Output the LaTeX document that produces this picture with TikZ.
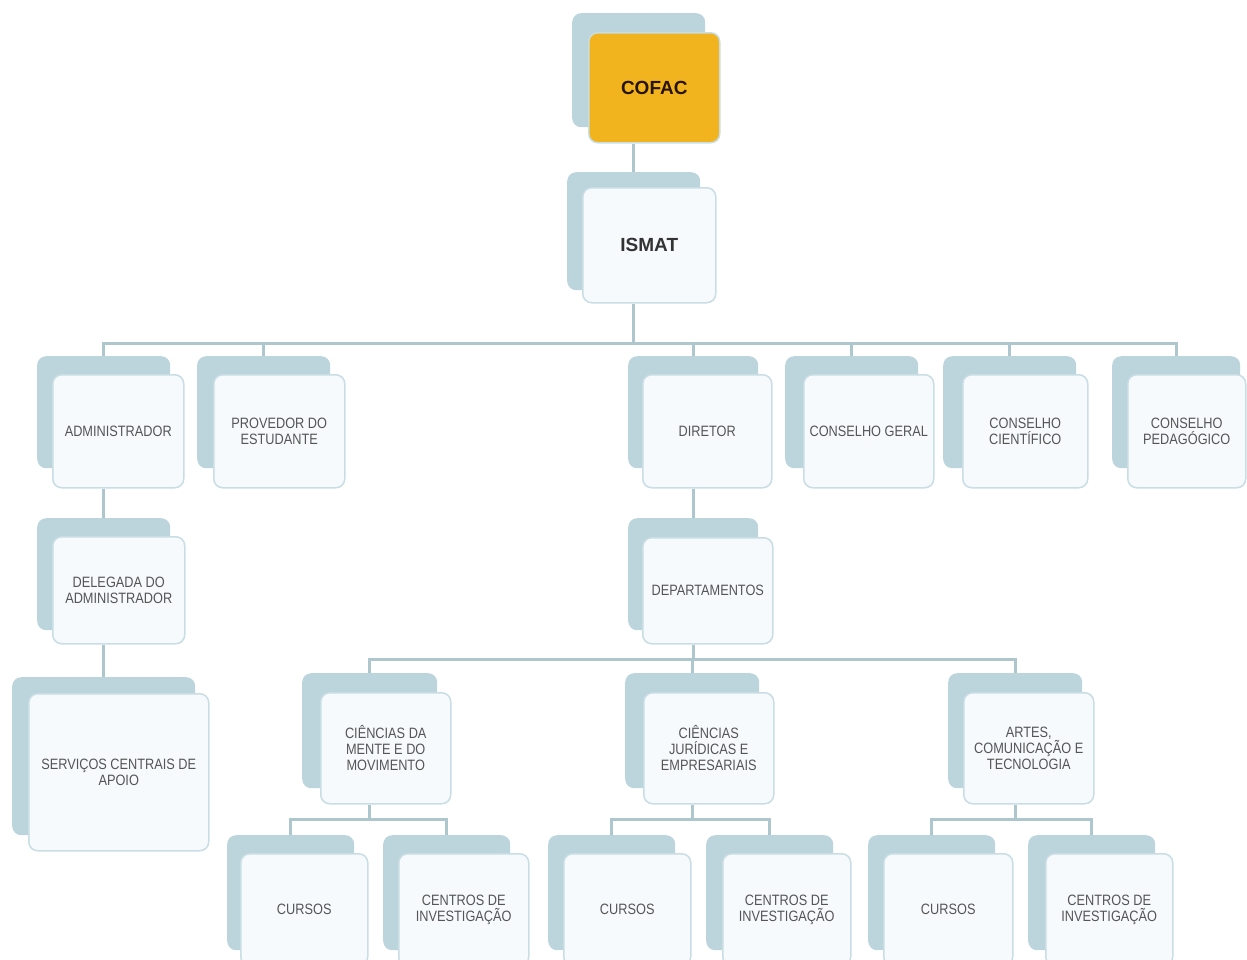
\documentclass[tikz,border=0pt]{standalone}
\usepackage{fontspec}
\setmainfont{Liberation Sans}[FakeStretch=0.85]
\newfontfamily\titlefont{Liberation Sans}
\definecolor{backc}{HTML}{BCD5DD}
\definecolor{frontc}{HTML}{F6FAFC}
\definecolor{bordc}{HTML}{C9DDE4}
\definecolor{linkc}{HTML}{AEC6CE}
\definecolor{orgc}{HTML}{F2B41E}
\definecolor{txtc}{HTML}{555555}
\begin{document}
\begin{tikzpicture}[x=1pt,y=-1pt,
  backbox/.style={anchor=north west, fill=backc, rounded corners=9pt, inner sep=0pt},
  frontbox/.style={anchor=north west, fill=frontc, draw=bordc, line width=1.5pt, rounded corners=9pt, inner sep=0pt, align=center, text=txtc, font=\fontsize{15}{16}\selectfont},
  titletext/.style={font=\titlefont\bfseries\fontsize{19}{20}\selectfont},
  link/.style={draw=linkc, line width=3pt}]
\useasboundingbox (0,0) rectangle (1247,959);
% COFAC and ISMAT
\node[backbox, minimum width=133pt, minimum height=114pt] (cofac-b) at (572,13) {};
\node[frontbox, fill=orgc, minimum width=131pt, minimum height=110pt, text=black!85!orange, titletext] (cofac) at (588,32) {COFAC};
\node[backbox, minimum width=133pt, minimum height=118pt] (ismat-b) at (567,172) {};
\node[frontbox, minimum width=133pt, minimum height=115pt, text=black!80, titletext] (ismat) at (582,187) {ISMAT};
% level 1
\node[backbox, minimum width=133pt, minimum height=112pt] (admin-b) at (37,356) {};
\node[frontbox, minimum width=131pt, minimum height=113pt] (admin) at (52,374) {ADMINISTRADOR};
\node[backbox, minimum width=133pt, minimum height=112pt] (prov-b) at (197,356) {};
\node[frontbox, minimum width=131pt, minimum height=113pt] (prov) at (213,374) {PROVEDOR DO\\ESTUDANTE};
\node[backbox, minimum width=130pt, minimum height=112pt] (dir-b) at (628,356) {};
\node[frontbox, minimum width=129pt, minimum height=113pt] (dir) at (642,374) {DIRETOR};
\node[backbox, minimum width=133pt, minimum height=112pt] (cg-b) at (785,356) {};
\node[frontbox, minimum width=130pt, minimum height=113pt] (cg) at (803,374) {CONSELHO GERAL};
\node[backbox, minimum width=133pt, minimum height=112pt] (cc-b) at (943,356) {};
\node[frontbox, minimum width=125pt, minimum height=113pt] (cc) at (962,374) {CONSELHO\\CIENTÍFICO};
\node[backbox, minimum width=128pt, minimum height=112pt] (cp-b) at (1112,356) {};
\node[frontbox, minimum width=118pt, minimum height=113pt] (cp) at (1127,374) {CONSELHO\\PEDAGÓGICO};
% level 2
\node[backbox, minimum width=133pt, minimum height=112pt] (deleg-b) at (37,518) {};
\node[frontbox, minimum width=132pt, minimum height=107pt] (deleg) at (52,536) {DELEGADA DO\\ADMINISTRADOR};
\node[backbox, minimum width=130pt, minimum height=112pt] (dept-b) at (628,518) {};
\node[frontbox, minimum width=130pt, minimum height=106pt] (dept) at (642,537) {DEPARTAMENTOS};
\node[backbox, minimum width=183pt, minimum height=158pt] (serv-b) at (12,677) {};
\node[frontbox, minimum width=180pt, minimum height=157pt] (serv) at (28,693) {SERVIÇOS CENTRAIS DE\\APOIO};
% level 3
\node[backbox, minimum width=135pt, minimum height=115pt] (cdm-b) at (302,673) {};
\node[frontbox, minimum width=130pt, minimum height=111pt] (cdm) at (320,692) {CIÊNCIAS DA\\MENTE E DO\\MOVIMENTO};
\node[backbox, minimum width=134pt, minimum height=115pt] (cje-b) at (625,673) {};
\node[frontbox, minimum width=130pt, minimum height=111pt] (cje) at (643,692) {CIÊNCIAS\\JURÍDICAS E\\EMPRESARIAIS};
\node[backbox, minimum width=134pt, minimum height=115pt] (act-b) at (948,673) {};
\node[frontbox, minimum width=130pt, minimum height=111pt] (act) at (963,692) {ARTES,\\COMUNICAÇÃO E\\TECNOLOGIA};
% level 4
\node[backbox, minimum width=127pt, minimum height=115pt] (cur1-b) at (227,835) {};
\node[frontbox, minimum width=127pt, minimum height=112pt] (cur1) at (240,853) {CURSOS};
\node[backbox, minimum width=127pt, minimum height=115pt] (inv1-b) at (383,835) {};
\node[frontbox, minimum width=130pt, minimum height=112pt] (inv1) at (398,853) {CENTROS DE\\INVESTIGAÇÃO};
\node[backbox, minimum width=127pt, minimum height=115pt] (cur2-b) at (548,835) {};
\node[frontbox, minimum width=127pt, minimum height=112pt] (cur2) at (563,853) {CURSOS};
\node[backbox, minimum width=127pt, minimum height=115pt] (inv2-b) at (706,835) {};
\node[frontbox, minimum width=128pt, minimum height=112pt] (inv2) at (722,853) {CENTROS DE\\INVESTIGAÇÃO};
\node[backbox, minimum width=127pt, minimum height=115pt] (cur3-b) at (868,835) {};
\node[frontbox, minimum width=129pt, minimum height=112pt] (cur3) at (883,853) {CURSOS};
\node[backbox, minimum width=127pt, minimum height=115pt] (inv3-b) at (1028,835) {};
\node[frontbox, minimum width=127pt, minimum height=112pt] (inv3) at (1045,853) {CENTROS DE\\INVESTIGAÇÃO};
% bus coordinates
\coordinate (bus1) at (0,343);
\coordinate (bus2) at (0,659);
\coordinate (bus3) at (0,819);
% connectors
\draw[link] (ismat-b.north |- cofac.south) -- (ismat-b.north);
\draw[link] (ismat-b.center |- ismat.south) -- (ismat-b.center |- bus1);
\draw[link] (admin-b.north) -- (admin-b.north |- bus1) -- (cp-b.north |- bus1) -- (cp-b.north);
\foreach \n in {prov,dir,cg,cc} \draw[link] (\n-b.north) -- (\n-b.north |- bus1);
\draw[link] (deleg-b.north |- admin.south) -- (deleg-b.north);
\draw[link] (deleg-b.center |- deleg.south) -- (serv-b.center |- serv-b.north);
\draw[link] (dept-b.north |- dir.south) -- (dept-b.north);
\draw[link] (dept-b.center |- dept.south) -- (dept-b.center |- bus2);
\draw[link] (cdm-b.north) -- (cdm-b.north |- bus2) -- (act-b.north |- bus2) -- (act-b.north);
\draw[link] (cje-b.north) -- (cje-b.north |- bus2);
\foreach \d/\a/\b in {cdm/cur1/inv1,cje/cur2/inv2,act/cur3/inv3}{
  \draw[link] (\d-b.center |- \d.south) -- (\d-b.center |- bus3);
  \draw[link] (\a-b.north) -- (\a-b.north |- bus3) -- (\b-b.north |- bus3) -- (\b-b.north);
}
\end{tikzpicture}
\end{document}
